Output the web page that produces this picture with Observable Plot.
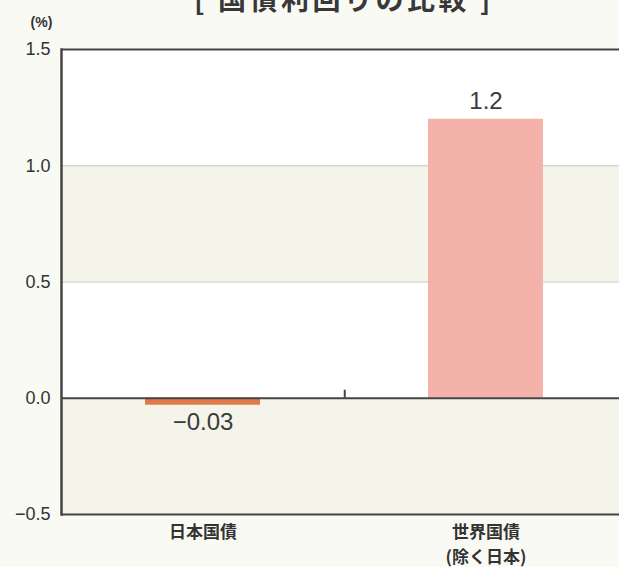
<!DOCTYPE html>
<html>
<head>
<meta charset="utf-8">
<script src="https://cdn.jsdelivr.net/npm/d3@7"></script>
<script src="https://cdn.jsdelivr.net/npm/@observablehq/plot@0.6"></script>
<style>
  html, body { margin: 0; padding: 0; background: #fafaf4; overflow: hidden; }
  #wrap { position: relative; width: 619px; height: 567px; overflow: hidden; }
  #title {
    position: absolute; left: 344px; top: -16px; transform: translateX(-50%);
    font-family: "Noto Sans CJK JP", sans-serif; font-weight: bold; font-size: 28px;
    line-height: 28px; letter-spacing: 3.5px; color: #383838; white-space: nowrap; z-index: 2;
  }
</style>
</head>
<body>
<div id="wrap"><div id="title"></div></div>
<script>
// ---- data ----
const title = "[ 国債利回りの比較 ]";
const unitLabel = "(%)";
const categories = ["日本国債", "世界国債\n(除く日本)"];
const yields = [-0.03, 1.2];
const yTicks = [1.5, 1.0, 0.5, 0.0, -0.5];
const gridValues = [1.0, 0.5];

// ---- derived tables ----
const data = categories.map((c, i) => ({category: c, value: yields[i]}));
const bands = yTicks.slice(0, -1).map((t, i) => ({top: t, bottom: yTicks[i + 1], shade: i % 2 === 1}));

document.getElementById("title").textContent = title;

const paddingInner = 0.594, paddingOuter = 0.2945;
const xRange = [61, 626.6];
const step = (xRange[1] - xRange[0]) / (categories.length - paddingInner + 2 * paddingOuter);
const fmt = d3.format(".2~f");
const frameColor = "#454545";

const chart = Plot.plot({
  width: 619,
  height: 567,
  marginLeft: 61,
  marginRight: 0,
  marginTop: 49,
  marginBottom: 53,
  style: {background: "#fafaf4", fontFamily: "'Liberation Sans', Arial, sans-serif", color: "#353535"},
  x: {domain: categories, range: xRange, paddingInner, paddingOuter, align: 0.5},
  y: {domain: [yTicks[yTicks.length - 1], yTicks[0]]},
  color: {domain: categories, range: ["#e07a4b", "#f5b2aa"]},
  marks: [
    Plot.rect(bands, {y1: "top", y2: "bottom", fill: d => d.shade ? "#f5f4eb" : "#ffffff"}),
    Plot.ruleY(gridValues, {stroke: "#d8d8cf", strokeWidth: 1.5}),
    Plot.barY(data, {x: "category", y: "value", fill: "category"}),
    Plot.ruleY([yTicks[0], 0, yTicks[yTicks.length - 1]], {stroke: frameColor, strokeWidth: 2}),
    Plot.frame({anchor: "left", stroke: frameColor, strokeWidth: 2.5}),
    Plot.ruleX([categories[0]], {x: d => d, y1: 0, y2: 0, dx: step / 2, insetTop: -8, stroke: frameColor, strokeWidth: 2}),
    Plot.text(data, {filter: d => d.value >= 0, x: "category", y: "value", text: d => fmt(d.value),
      dy: -18, fontSize: 24, fill: "#3a3a3a", lineAnchor: "middle"}),
    Plot.text(data, {filter: d => d.value < 0, x: "category", y: "value", text: d => fmt(d.value),
      dy: 17, fontSize: 24, fill: "#3a3a3a", lineAnchor: "middle"}),
    Plot.axisY({ticks: yTicks, tickSize: 0, tickPadding: 11, tickFormat: d3.format(".1f"),
      fontSize: 18, fill: "#333", label: null}),
    Plot.axisX({tickSize: 0, tickPadding: 5, fontSize: 17, fontWeight: "bold", lineHeight: 1.5,
      fontFamily: "'Noto Sans CJK JP', sans-serif", fill: "#333", label: null}),
    Plot.text([unitLabel], {frameAnchor: "top-left", dx: -20, dy: -27, fontSize: 14, fontWeight: "bold",
      fill: "#333", lineAnchor: "middle", textAnchor: "middle"})
  ]
});
document.getElementById("wrap").appendChild(chart);
</script>
</body>
</html>
